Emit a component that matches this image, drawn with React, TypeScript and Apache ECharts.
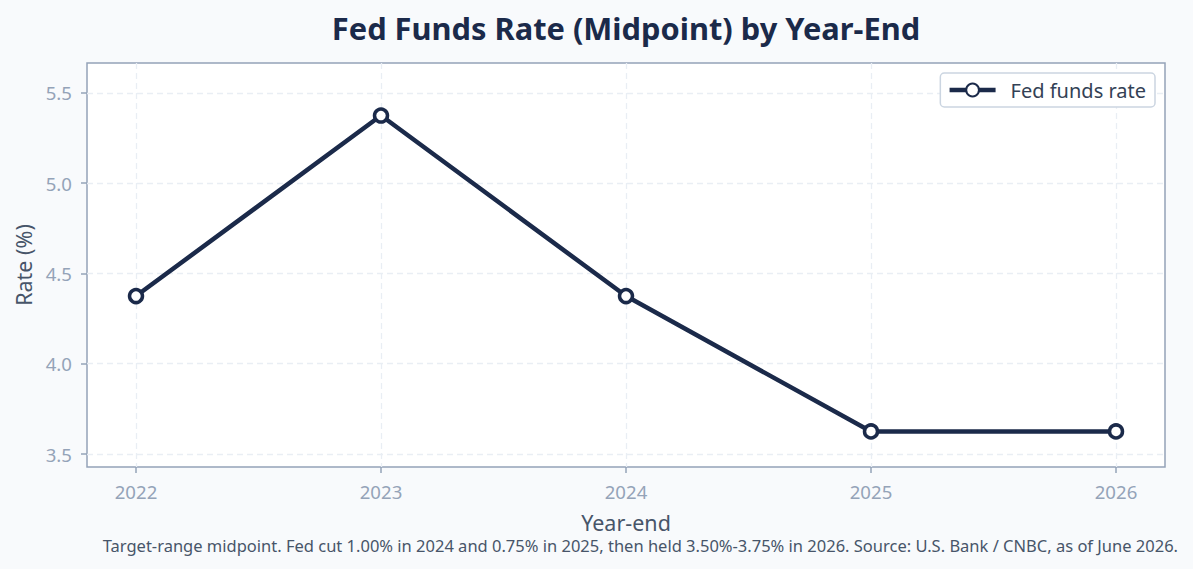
import React, { useEffect, useRef } from "react";
import * as echarts from "echarts";

const years = [2022, 2023, 2024, 2025, 2026];
const rates = [4.375, 5.375, 4.375, 3.625, 3.625];
const yTicks = [3.5, 4.0, 4.5, 5.0, 5.5];
const seriesName = "Fed funds rate";
const titleText = "Fed Funds Rate (Midpoint) by Year-End";
const footnote =
  "Target-range midpoint. Fed cut 1.00% in 2024 and 0.75% in 2025, then held 3.50%-3.75% in 2026. Source: U.S. Bank / CNBC, as of June 2026.";

const FONT = "'Noto Sans', sans-serif";
const NAVY = "#1b2a4a";
const TICK = "#94a3b8";

export default function App() {
  const ref = useRef<HTMLDivElement>(null);
  useEffect(() => {
    document.body.style.margin = "0";
    const chart = echarts.init(ref.current!, null, { renderer: "svg" });
    chart.setOption({
      animation: false,
      backgroundColor: "#f8fafc",
      textStyle: { fontFamily: FONT },
      title: {
        text: titleText,
        left: 621,
        textAlign: "center",
        top: 7,
        textStyle: { fontFamily: FONT, fontSize: 30.8, fontWeight: "bold", color: NAVY },
      },
      legend: {
        right: 38,
        top: 73,
        backgroundColor: "#ffffff",
        borderColor: "#cbd5e1",
        borderWidth: 1.5,
        borderRadius: 4,
        padding: [7, 9, 7, 7],
        itemWidth: 46,
        itemHeight: 16,
        itemGap: 10,
        lineStyle: { width: 4.5 },
        textStyle: { fontFamily: FONT, fontSize: 20, color: "#334155", padding: [0, 0, 0, 10] },
        data: [seriesName],
      },
      grid: {
        left: 87,
        right: 28,
        top: 63,
        bottom: 102,
        show: true,
        backgroundColor: "#ffffff",
        borderColor: TICK,
        borderWidth: 1.5,
      },
      xAxis: {
        type: "value",
        min: 2021.8,
        max: 2026.2,
        name: "Year-end",
        nameLocation: "middle",
        nameGap: 45,
        nameTextStyle: { fontFamily: FONT, fontSize: 21.5, lineHeight: 20, color: "#475569" },
        axisLine: { show: false },
        axisTick: { show: true, length: 6, lineStyle: { color: TICK, width: 1.5 }, customValues: years },
        axisLabel: {
          customValues: years,
          margin: 15,
          fontFamily: FONT,
          fontSize: 18.6,
          color: TICK,
          formatter: (v: number) => String(Math.round(v)),
        },
        splitLine: { show: true, lineStyle: { color: "#e9eef4", type: [6, 4], width: 1.3 } },
      },
      yAxis: {
        type: "value",
        min: 3.428,
        max: 5.666,
        name: "Rate (%)",
        nameLocation: "middle",
        nameGap: 52,
        nameTextStyle: { fontFamily: FONT, fontSize: 21.5, color: "#475569" },
        axisLine: { show: false },
        axisTick: { show: true, length: 6, lineStyle: { color: TICK, width: 1.5 }, customValues: yTicks },
        axisLabel: {
          customValues: yTicks,
          margin: 15,
          fontFamily: FONT,
          fontSize: 18.6,
          color: TICK,
          formatter: (v: number) => v.toFixed(1),
        },
        splitLine: { show: true, lineStyle: { color: "#e9eef4", type: [6, 4], width: 1.3 } },
      },
      graphic: [
        {
          type: "text",
          right: 15,
          top: 537,
          style: { text: footnote, fontFamily: FONT, fontSize: 16.5, lineHeight: 17, fill: "#475569" },
        },
      ],
      series: [
        {
          name: seriesName,
          type: "line",
          data: years.map((y, i) => [y, rates[i]]),
          symbol: "circle",
          symbolSize: 13,
          lineStyle: { color: NAVY, width: 4.5 },
          itemStyle: { color: "#ffffff", borderColor: NAVY, borderWidth: 3.5 },
        },
      ],
    });
    return () => chart.dispose();
  }, []);
  return <div ref={ref} style={{ position: "fixed", left: 0, top: 0, width: 1193, height: 569 }} />;
}
